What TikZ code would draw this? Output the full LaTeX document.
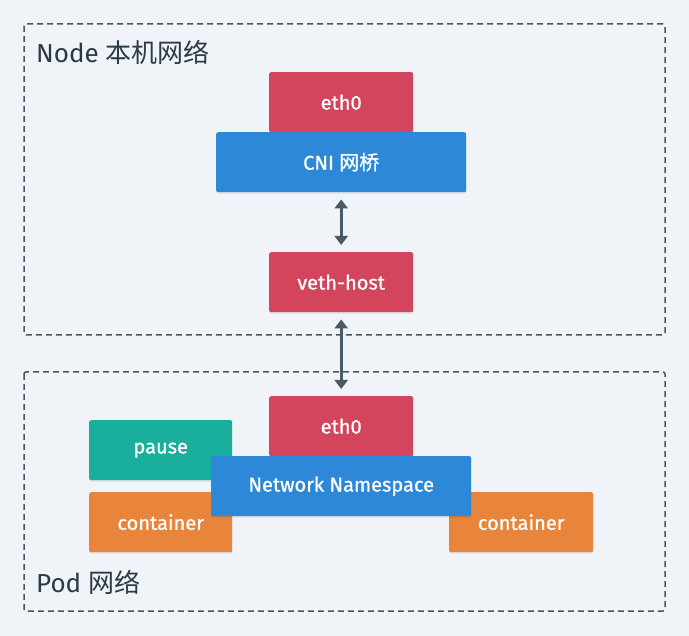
\documentclass[tikz,border=0pt]{standalone}
\usepackage{fontspec}
\setmainfont{Fira Sans}
\newfontfamily\cjk{Noto Sans CJK SC}
\newfontfamily\boxfont[FakeBold=0.9]{Fira Sans}
\newfontfamily\boxcjk[FakeBold=0.6]{Noto Sans CJK SC}
\usetikzlibrary{arrows.meta}
\definecolor{bg}{HTML}{F0F4F8}
\definecolor{dash}{HTML}{4A5563}
\definecolor{redbox}{HTML}{D2455C}
\definecolor{bluebox}{HTML}{2D89D8}
\definecolor{tealbox}{HTML}{1AAF9C}
\definecolor{orangebox}{HTML}{E8853A}
\definecolor{arrowc}{HTML}{4B5866}
\definecolor{titlec}{HTML}{2C3A47}
\tikzset{
  box/.style={draw=none, rounded corners=2pt, inner sep=0pt, text=white,
    font=\fontsize{20}{22}\boxfont, anchor=north west},
  region/.style={draw=dash, line width=1.5pt, dash pattern=on 6pt off 4pt, rounded corners=2pt},
  title/.style={text=titlec, anchor=base west, inner sep=0pt, font=\fontsize{26}{28}\selectfont},
  arr/.style={draw=arrowc, line width=3pt, {Triangle[width=13pt,length=9pt]}-{Triangle[width=13pt,length=9pt]}, shorten <=7pt, shorten >=7pt},
  shadowed/.style={preaction={fill=black, opacity=0.08, transform canvas={yshift=-1.5pt}}}
}
\begin{document}
\begin{tikzpicture}[x=1pt,y=-1pt]
\useasboundingbox[fill=bg] (0,0) rectangle (689,636);
% regions
\draw[region] (24,24) rectangle (665,335);
\draw[region] (24,372) rectangle (665,611);
\node[title] (nodetitle) at (36,63) {Node {\cjk 本机网络}};
\node[title] (podtitle) at (36,592) {Pod {\cjk 网络}};
% node part
\node[box, shadowed, fill=redbox, minimum width=144pt, minimum height=60pt] (eth0a) at (269,72) {eth0};
\node[box, shadowed, fill=bluebox, minimum width=250pt, minimum height=60pt] (cni) at (216,132) {CNI {\boxcjk 网桥}};
\node[box, shadowed, fill=redbox, minimum width=144pt, minimum height=60pt] (veth) at (269,252) {veth-host};
% pod part
\node[box, shadowed, fill=redbox, minimum width=144pt, minimum height=60pt] (eth0b) at (269,396) {eth0};
\node[box, shadowed, fill=tealbox, minimum width=143pt, minimum height=60pt] (pause) at (89,420) {pause};
\node[box, shadowed, fill=orangebox, minimum width=143pt, minimum height=60pt] (cont1) at (89,492) {container};
\node[box, shadowed, fill=orangebox, minimum width=144pt, minimum height=60pt] (cont2) at (449,492) {container};
\node[box, shadowed, fill=bluebox, minimum width=260pt, minimum height=60pt] (ns) at (211,456) {Network Namespace};
% arrows
\draw[arr] (cni.south) -- (veth.north);
\draw[arr] (veth.south) -- (eth0b.north);
\end{tikzpicture}
\end{document}
